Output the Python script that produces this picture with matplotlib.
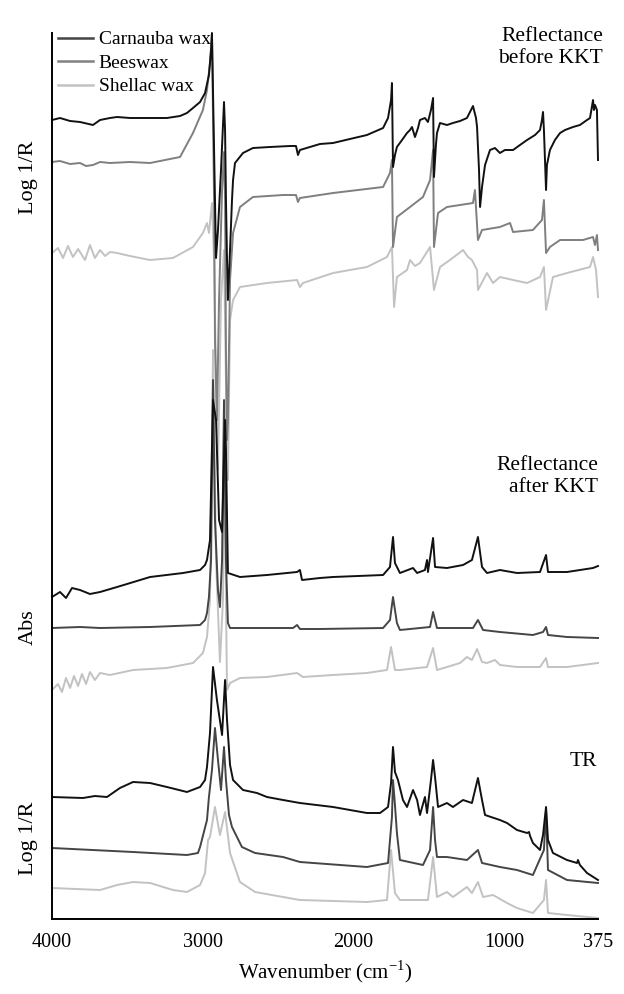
import numpy as np
import matplotlib

matplotlib.use("Agg")
import matplotlib.pyplot as plt
from matplotlib.lines import Line2D

plt.rcParams["font.family"] = ["Liberation Serif", "DejaVu Serif"]
plt.rcParams["mathtext.fontset"] = "custom"
plt.rcParams["mathtext.rm"] = "Liberation Serif"

# (wavenumber cm-1, stacked intensity in arbitrary units)
# --- Reflectance before KKT ---
carnauba_before = [
    (4000, 799), (3947, 801), (3880, 798), (3814, 797), (3728, 794), (3681, 799), (3615, 801),
    (3568, 802), (3482, 801), (3349, 801), (3237, 801), (3150, 803), (3104, 806), (3064, 811),
    (3017, 817), (2984, 826), (2958, 844), (2944, 869), (2938, 886), (2924, 769), (2911, 661),
    (2898, 689), (2878, 749), (2858, 817), (2851, 789), (2845, 719), (2838, 659), (2832, 619),
    (2818, 669), (2805, 719), (2798, 739), (2785, 756), (2732, 766), (2666, 771), (2553, 772),
    (2420, 773), (2380, 773), (2367, 764), (2354, 769), (2221, 775), (2134, 776), (2022, 780),
    (1909, 784), (1802, 791), (1769, 801), (1749, 819), (1743, 836), (1736, 752), (1723, 764),
    (1710, 772), (1676, 779), (1643, 786), (1623, 789), (1610, 792), (1590, 782), (1570, 791),
    (1557, 799), (1524, 801), (1504, 797), (1484, 809), (1470, 821), (1464, 742), (1451, 774),
    (1444, 786), (1424, 796), (1378, 794), (1338, 796), (1291, 798), (1245, 801), (1225, 807),
    (1205, 813), (1185, 801), (1178, 792), (1165, 749), (1158, 712), (1145, 732), (1125, 754),
    (1092, 769), (1059, 771), (1026, 766), (993, 769), (939, 769), (893, 774), (846, 779),
    (793, 784), (760, 789), (747, 799), (740, 807), (734, 789), (720, 729), (714, 754),
    (694, 769), (661, 779), (627, 786), (594, 789), (541, 792), (495, 794), (448, 799),
    (428, 801), (408, 819), (402, 809), (395, 814), (382, 809), (375, 759),
]
beeswax_before = [
    (4000, 757), (3947, 758), (3880, 755), (3814, 756), (3774, 753), (3728, 754), (3681, 757),
    (3615, 756), (3482, 757), (3349, 756), (3150, 762), (3064, 786), (2998, 809), (2971, 829),
    (2951, 856), (2938, 884), (2924, 719), (2918, 579), (2905, 499), (2891, 619), (2871, 729),
    (2858, 767), (2851, 719), (2845, 569), (2838, 479), (2832, 499), (2818, 639), (2798, 686),
    (2752, 712), (2666, 722), (2466, 724), (2380, 724), (2367, 717), (2354, 721), (2134, 726),
    (1802, 732), (1756, 746), (1743, 759), (1736, 672), (1710, 702), (1623, 712), (1537, 722),
    (1490, 739), (1470, 769), (1464, 672), (1437, 706), (1378, 712), (1205, 716), (1192, 729),
    (1172, 679), (1145, 689), (1026, 692), (959, 696), (939, 687), (807, 689), (747, 699),
    (734, 719), (720, 666), (694, 672), (627, 679), (475, 679), (408, 682), (395, 674),
    (382, 684), (375, 669),
]
shellac_before = [
    (4000, 666), (3960, 671), (3927, 661), (3894, 673), (3861, 662), (3827, 670), (3781, 659),
    (3748, 674), (3715, 661), (3681, 669), (3648, 663), (3615, 667), (3568, 666), (3482, 663),
    (3349, 659), (3197, 661), (3064, 672), (2998, 686), (2971, 696), (2958, 686), (2938, 716),
    (2924, 659), (2911, 539), (2898, 449), (2878, 619), (2858, 669), (2845, 539), (2832, 439),
    (2818, 599), (2798, 619), (2752, 632), (2573, 636), (2373, 639), (2354, 632), (2334, 636),
    (2134, 646), (1909, 652), (1776, 662), (1743, 672), (1729, 612), (1710, 642), (1643, 649),
    (1623, 659), (1590, 653), (1557, 656), (1490, 672), (1464, 629), (1424, 652), (1358, 659),
    (1271, 669), (1238, 662), (1212, 659), (1178, 649), (1172, 629), (1112, 646), (1072, 636),
    (1026, 642), (939, 639), (846, 636), (760, 642), (734, 652), (720, 609), (674, 642),
    (581, 646), (428, 652), (408, 662), (388, 649), (375, 622),
]

# --- Reflectance after KKT ---
carnauba_after = [
    (4000, 322), (3947, 327), (3907, 321), (3867, 331), (3814, 329), (3748, 325), (3681, 327),
    (3568, 332), (3349, 342), (3130, 346), (3017, 349), (2984, 354), (2971, 359), (2951, 379),
    (2931, 519), (2911, 499), (2891, 399), (2871, 387), (2858, 459), (2851, 499), (2845, 469),
    (2832, 346), (2752, 342), (2573, 344), (2373, 347), (2354, 349), (2340, 339), (2221, 341),
    (2134, 342), (1802, 344), (1756, 352), (1736, 382), (1723, 356), (1690, 346), (1603, 351),
    (1576, 346), (1524, 349), (1510, 359), (1504, 347), (1470, 381), (1457, 352), (1378, 351),
    (1271, 354), (1212, 359), (1172, 382), (1145, 352), (1112, 346), (1026, 349), (913, 346),
    (760, 347), (720, 364), (707, 347), (581, 347), (408, 351), (375, 353),
]
beeswax_after = [
    (4000, 291), (3814, 292), (3681, 291), (3349, 292), (3017, 294), (2984, 299), (2971, 306),
    (2958, 322), (2944, 359), (2931, 539), (2918, 399), (2898, 329), (2885, 312), (2871, 359),
    (2858, 519), (2845, 359), (2832, 296), (2818, 291), (2400, 291), (2373, 294), (2354, 290),
    (2221, 290), (1802, 291), (1756, 299), (1736, 322), (1710, 296), (1690, 289), (1490, 292),
    (1470, 307), (1444, 291), (1205, 291), (1172, 299), (1138, 289), (1026, 287), (807, 284),
    (740, 287), (720, 292), (707, 284), (581, 282), (375, 281),
]
shellac_after = [
    (4000, 229), (3960, 235), (3934, 227), (3907, 241), (3880, 231), (3854, 243), (3827, 233),
    (3801, 245), (3774, 235), (3748, 247), (3715, 239), (3681, 246), (3615, 244), (3462, 249),
    (3237, 251), (3064, 256), (2998, 266), (2971, 282), (2951, 319), (2931, 569), (2911, 359),
    (2885, 257), (2865, 319), (2851, 499), (2845, 319), (2838, 229), (2818, 236), (2752, 241),
    (2573, 242), (2373, 246), (2334, 242), (2134, 244), (1909, 246), (1776, 249), (1749, 272),
    (1723, 249), (1690, 249), (1510, 252), (1470, 271), (1444, 249), (1378, 252), (1291, 256),
    (1245, 262), (1212, 259), (1178, 270), (1145, 257), (1112, 256), (1059, 259), (1026, 254),
    (913, 252), (760, 252), (720, 261), (707, 252), (581, 252), (375, 256),
]

# --- TR ---
carnauba_tr = [
    (4000, 122), (3794, 121), (3715, 123), (3635, 122), (3549, 131), (3462, 137), (3349, 136),
    (3237, 132), (3104, 127), (3017, 132), (2984, 139), (2971, 152), (2951, 186), (2931, 252),
    (2905, 219), (2871, 184), (2851, 239), (2838, 199), (2818, 154), (2798, 139), (2732, 129),
    (2639, 126), (2573, 122), (2466, 119), (2354, 116), (2134, 112), (1909, 106), (1822, 106),
    (1769, 112), (1749, 136), (1736, 172), (1723, 147), (1703, 139), (1670, 119), (1643, 112),
    (1610, 126), (1603, 129), (1576, 119), (1557, 104), (1524, 122), (1510, 106), (1484, 139),
    (1470, 159), (1457, 142), (1437, 112), (1378, 116), (1338, 112), (1271, 119), (1212, 116),
    (1172, 141), (1145, 119), (1125, 104), (1026, 99), (979, 96), (913, 89), (846, 86),
    (833, 87), (826, 83), (807, 76), (760, 69), (740, 84), (720, 112), (707, 79), (674, 66),
    (581, 59), (514, 56), (508, 59), (495, 54), (448, 46), (375, 39),
]
beeswax_tr = [
    (4000, 71), (3462, 67), (3104, 64), (3031, 66), (3017, 72), (2971, 99), (2958, 122),
    (2938, 149), (2918, 191), (2898, 159), (2878, 129), (2858, 172), (2845, 139), (2825, 104),
    (2805, 92), (2739, 72), (2652, 66), (2466, 62), (2354, 57), (1909, 52), (1769, 56),
    (1743, 102), (1736, 139), (1723, 114), (1710, 86), (1690, 59), (1537, 54), (1490, 69),
    (1470, 112), (1457, 79), (1444, 62), (1378, 62), (1245, 59), (1172, 69), (1145, 56),
    (1026, 52), (913, 49), (807, 44), (734, 69), (720, 109), (707, 49), (581, 39), (375, 36),
]
shellac_tr = [
    (4000, 31), (3681, 29), (3568, 34), (3462, 37), (3349, 36), (3197, 29), (3104, 27),
    (3017, 34), (2984, 46), (2964, 79), (2951, 82), (2918, 112), (2885, 84), (2851, 107),
    (2818, 66), (2752, 37), (2652, 27), (2466, 22), (2354, 19), (1909, 17), (1776, 19),
    (1749, 69), (1723, 26), (1690, 19), (1504, 19), (1470, 62), (1444, 22), (1378, 27),
    (1338, 22), (1245, 32), (1212, 26), (1172, 37), (1138, 22), (1072, 24), (979, 16),
    (913, 11), (807, 6), (734, 19), (720, 39), (707, 6), (581, 4), (375, 1),
]

x_ticks = [4000, 3000, 2000, 1000, 375]
wax_names = ["Carnauba wax", "Beeswax", "Shellac wax"]

fig = plt.figure(figsize=(6.24, 9.94), dpi=100)
ax = fig.add_axes([52 / 624, 75 / 994, 546 / 624, 886 / 994])

curves = [
    (carnauba_before, "#111111"), (beeswax_before, "#7f7f7f"), (shellac_before, "#c2c2c2"),
    (carnauba_after, "#111111"), (beeswax_after, "#454545"), (shellac_after, "#c2c2c2"),
    (carnauba_tr, "#111111"), (beeswax_tr, "#454545"), (shellac_tr, "#c2c2c2"),
]
# lighter curves first so the dark ones stay on top
order = [2, 5, 8, 1, 4, 7, 0, 3, 6]
for i in order:
    data, color = curves[i]
    arr = np.array(data, dtype=float)
    ax.plot(arr[:, 0], arr[:, 1], color=color, lw=1.4, solid_joinstyle="round", clip_on=False)

ax.set_xlim(4000, 375)
ax.set_ylim(0, 886)
ax.set_xticks(x_ticks)
ax.set_xticklabels([str(t) for t in x_ticks], fontsize=14.5)
ax.tick_params(axis="x", length=0, pad=10)
ax.set_yticks([])
for s in ["top", "right"]:
    ax.spines[s].set_visible(False)
for s in ["left", "bottom"]:
    ax.spines[s].set_linewidth(1.4)
ax.set_xlabel("Wavenumber (cm$^{-1}$)", fontsize=15, labelpad=5)

handles = [
    Line2D([], [], color="#444444", lw=1.8),
    Line2D([], [], color="#808080", lw=1.8),
    Line2D([], [], color="#c2c2c2", lw=1.8),
]
ax.legend(handles, wax_names, loc="upper left", bbox_to_anchor=(0.0, 1.009), frameon=False,
          fontsize=14, handlelength=1.8, handletextpad=0.3, labelspacing=0.3,
          borderaxespad=0.0, borderpad=0.3)

fig.text(603 / 624, 1 - 27 / 994, "Reflectance\nbefore KKT", ha="right", va="top",
         fontsize=15.5, multialignment="right", linespacing=1.2)
fig.text(598 / 624, 1 - 456 / 994, "Reflectance\nafter KKT", ha="right", va="top",
         fontsize=15.5, multialignment="right", linespacing=1.2)
fig.text(597 / 624, 1 - 761 / 994, "TR", ha="right", va="center", fontsize=15.5)

fig.text(28 / 624, 1 - 177 / 994, "Log 1/R", rotation=90, ha="center", va="center", fontsize=16)
fig.text(28 / 624, 1 - 627 / 994, "Abs", rotation=90, ha="center", va="center", fontsize=16)
fig.text(28 / 624, 1 - 838 / 994, "Log 1/R", rotation=90, ha="center", va="center", fontsize=16)

fig.savefig("out.png", dpi=100)
